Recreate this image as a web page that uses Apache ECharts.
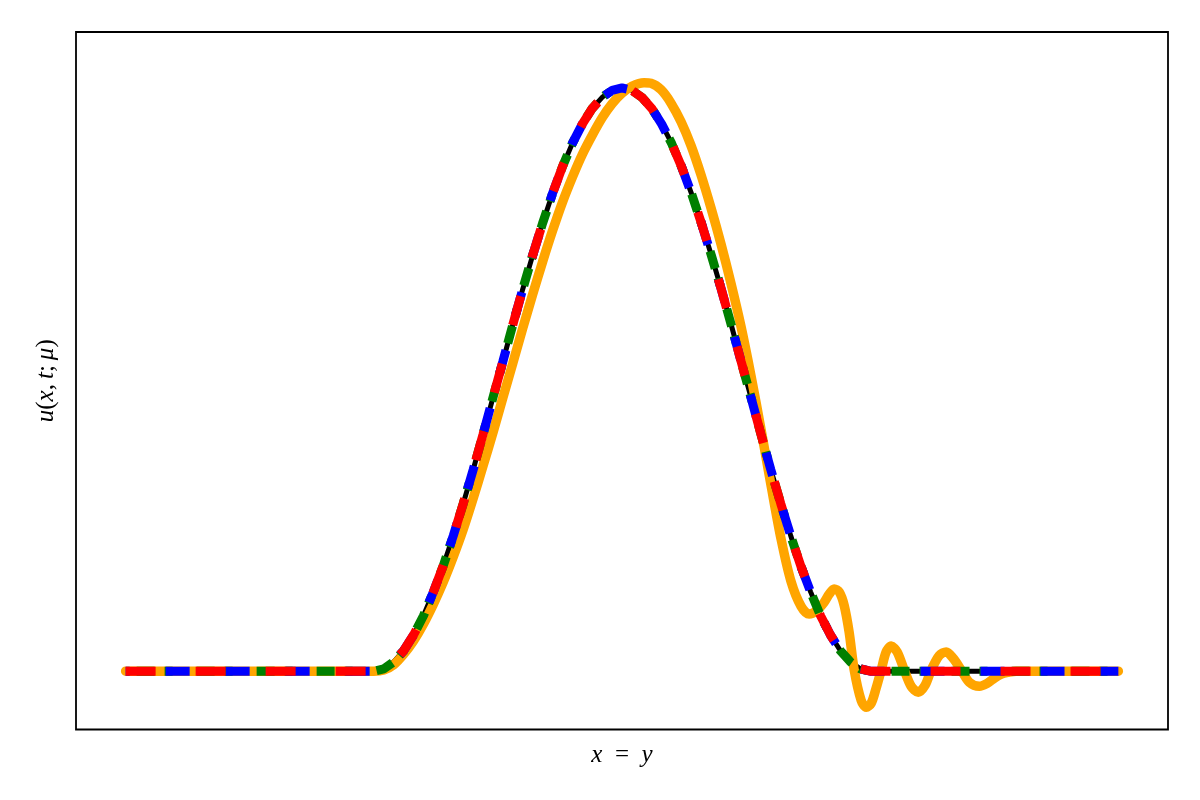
<!DOCTYPE html>
<html>
<head>
<meta charset="utf-8">
<script src="https://cdn.jsdelivr.net/npm/echarts@6/dist/echarts.min.js"></script>
<style>
  html, body { margin: 0; padding: 0; background: #ffffff; }
  #chart { width: 1200px; height: 800px; }
</style>
</head>
<body>
<div id="chart"></div>
<script>
// x positions shared by the reference (black) solution and the three dashed approximations
const xExact = [0, 0.05, 0.10, 0.15, 0.20,
  0.25, 0.26, 0.27, 0.28, 0.29, 0.30, 0.31, 0.32, 0.33, 0.34,
  0.35, 0.36, 0.37, 0.38, 0.39, 0.40, 0.41, 0.42, 0.43, 0.44,
  0.45, 0.46, 0.47, 0.48, 0.49, 0.50, 0.51, 0.52, 0.53, 0.54,
  0.55, 0.56, 0.57, 0.58, 0.59, 0.60, 0.61, 0.62, 0.63, 0.64,
  0.65, 0.66, 0.67, 0.68, 0.69, 0.70, 0.71, 0.72, 0.73, 0.74, 0.75,
  0.80, 0.85, 0.90, 0.95, 1.00];
// black solid curve
const uExact = [0, 0, 0, 0, 0,
  0, 0.004, 0.016, 0.035, 0.062, 0.095, 0.136, 0.181, 0.232, 0.287,
  0.345, 0.406, 0.469, 0.531, 0.594, 0.655, 0.713, 0.768, 0.819, 0.865,
  0.905, 0.938, 0.965, 0.984, 0.996, 1.000, 0.996, 0.984, 0.965, 0.938,
  0.905, 0.865, 0.819, 0.768, 0.713, 0.655, 0.594, 0.531, 0.469, 0.406,
  0.345, 0.287, 0.232, 0.181, 0.136, 0.095, 0.062, 0.035, 0.016, 0.004, 0,
  0, 0, 0, 0, 0];
// dashed approximations (they lie on top of the black curve)
const uRed = uExact.slice();
const uBlue = uExact.slice();
const uGreen = uExact.slice();

// orange oscillating curve
const xOrange = [0, 0.10, 0.20, 0.24,
  0.25, 0.26, 0.27, 0.28, 0.29, 0.30, 0.31, 0.32, 0.33, 0.34,
  0.35, 0.36, 0.37, 0.38, 0.39, 0.40, 0.41, 0.42, 0.43, 0.44,
  0.45, 0.46, 0.47, 0.48, 0.49, 0.50, 0.51, 0.5222,
  0.5292, 0.5393, 0.5494, 0.5595, 0.5696, 0.5796, 0.5897, 0.5998, 0.6099, 0.6200,
  0.6300, 0.6401, 0.6502, 0.6603, 0.6704, 0.6804, 0.6885,
  0.6956, 0.7036, 0.7087, 0.7137, 0.7188, 0.7238, 0.7288, 0.7339, 0.7409, 0.7460,
  0.7510, 0.7560, 0.7611, 0.7661, 0.7712, 0.7772, 0.7843, 0.7913, 0.7984, 0.8054,
  0.8115, 0.8196, 0.8266, 0.8337, 0.8417, 0.8498, 0.8599, 0.8679, 0.8750, 0.8821,
  0.8891, 0.8972, 0.95, 1.0];
const uOrange = [0, 0, 0, 0,
  0, 0.002, 0.011, 0.029, 0.052, 0.081, 0.115, 0.153, 0.196, 0.243,
  0.296, 0.352, 0.409, 0.469, 0.528, 0.588, 0.646, 0.702, 0.755, 0.804,
  0.847, 0.886, 0.919, 0.949, 0.973, 0.991, 1.003, 1.009,
  1.008, 0.997, 0.974, 0.942, 0.901, 0.851, 0.794, 0.732, 0.664, 0.590,
  0.506, 0.414, 0.318, 0.226, 0.153, 0.111, 0.098,
  0.103, 0.118, 0.132, 0.141, 0.136, 0.113, 0.067, 0.002, -0.050, -0.062,
  -0.055, -0.029, 0.002, 0.033, 0.043, 0.033, 0.002, -0.026, -0.036, -0.024,
  0.002, 0.027, 0.033, 0.022, 0.002, -0.019, -0.026, -0.021, -0.012, -0.005,
  -0.002, 0, 0, 0];

function pairs(xs, ys) { return xs.map((x, i) => [x, ys[i]]); }

const chart = echarts.init(document.getElementById('chart'), null, { renderer: 'canvas' });
const serif = '"Liberation Serif", "DejaVu Serif", serif';
const italic = { fontStyle: 'italic', fontFamily: serif, fontSize: 25, color: '#000' };
const roman = { fontStyle: 'normal', fontFamily: serif, fontSize: 25, color: '#000' };

chart.setOption({
  animation: false,
  backgroundColor: '#ffffff',
  grid: { left: 76, right: 32, top: 32, bottom: 70.5, show: true, borderColor: '#000', borderWidth: 1.8, containLabel: false },
  xAxis: {
    type: 'value', min: -0.05, max: 1.05,
    axisLine: { show: false }, axisTick: { show: false }, axisLabel: { show: false }, splitLine: { show: false },
    name: '{i|x}{r|\u2002=\u2002}{i|y}', nameLocation: 'middle', nameGap: 13,
    nameTextStyle: { rich: { i: italic, r: roman } }
  },
  yAxis: {
    type: 'value', min: -0.1, max: 1.096,
    axisLine: { show: false }, axisTick: { show: false }, axisLabel: { show: false }, splitLine: { show: false },
    name: '{i|u}{r|(}{i|x}{r|,\u2009}{i|t}{r|;\u2009}{i|μ}{r|)}', nameLocation: 'middle', nameGap: 17,
    nameTextStyle: { rich: { i: italic, r: roman } }
  },
  series: [
    { name: 'exact', type: 'line', data: pairs(xExact, uExact), showSymbol: false, smooth: false,
      lineStyle: { color: '#000000', width: 5 } },
    { name: 'orange', type: 'line', data: pairs(xOrange, uOrange), showSymbol: false, smooth: 0.3,
      lineStyle: { color: '#ffa500', width: 9.5, cap: 'round' } },
    { name: 'green', type: 'line', data: pairs(xExact, uGreen), showSymbol: false,
      lineStyle: { color: '#008000', width: 9, type: [18, 10, 8, 24], dashOffset: 49 } },
    { name: 'blue', type: 'line', data: pairs(xExact, uBlue), showSymbol: false,
      lineStyle: { color: '#0000ff', width: 9, type: [24, 36], dashOffset: 20 } },
    { name: 'red', type: 'line', data: pairs(xExact, uRed), showSymbol: false,
      lineStyle: { color: '#ff0000', width: 9, type: [30, 40], dashOffset: 0 } }
  ]
});
</script>
</body>
</html>
